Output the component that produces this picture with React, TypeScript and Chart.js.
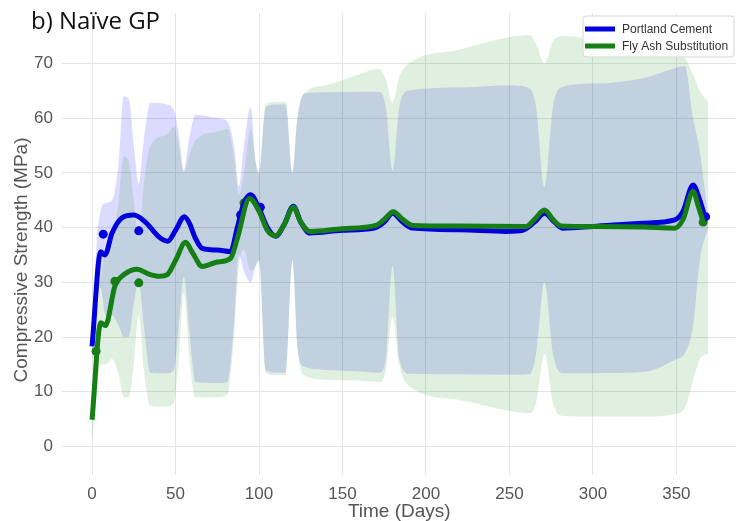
import React, { useEffect, useRef } from 'react';
import { Chart, registerables } from 'chart.js';

Chart.register(...registerables);

// ---- Data ----
const chartTitle = 'b) Naïve GP';
const seriesNames = ['Portland Cement', 'Fly Ash Substitution'];
const xAxisTitle = 'Time (Days)';
const yAxisTitle = 'Compressive Strength (MPa)';
const xTicks = [0, 50, 100, 150, 200, 250, 300, 350];
const yTicks = [0, 10, 20, 30, 40, 50, 60, 70];

// uncertainty band grid (days)
const bandDays = [0, 3, 5, 8, 12, 16, 19, 22, 25, 28, 31, 35, 45, 49, 52, 55, 58, 62, 75, 81, 85, 88, 91, 95, 98, 100, 104, 110, 116, 120, 123, 127, 140, 160, 172, 176, 180, 184, 190, 220, 250, 262, 266, 271, 276, 282, 300, 330, 350, 355, 360, 364, 369];
const pcUpper = [22, 38, 43, 44.5, 45, 52, 64, 63.5, 55, 48, 56, 62.8, 62.5, 61.5, 57, 50.5, 56, 60.6, 60, 59.4, 55, 47.5, 55, 62, 52, 50, 62, 62.5, 62.5, 50, 60, 64.5, 64.7, 64.8, 64.8, 62, 50.5, 62, 65.1, 65.6, 66, 65.4, 62, 47.5, 62, 65.7, 66.3, 67.3, 69.2, 69.5, 60, 54, 42];
const pcLower = [15, 27, 29, 24, 24, 22, 20, 20, 26, 30, 22, 13.5, 13.4, 14, 22, 31, 22, 11.8, 11.6, 11.8, 22, 35, 32, 30, 33, 34, 14, 13.5, 13.5, 34, 18, 14.6, 14, 13.7, 13.5, 16, 33, 16, 13.3, 13.2, 13.1, 13.2, 17, 30, 17, 13.4, 13.4, 13.6, 16, 17, 22, 34, 40];
const faUpper = [9, 24, 30, 36, 38, 45, 53, 52, 45, 38, 48, 55, 57, 58.4, 55, 50, 53, 56, 57.5, 58, 53, 46, 50, 58, 52, 50, 62.5, 63, 63, 50, 60, 64.5, 66, 68, 69, 67, 62.8, 67.5, 70, 72.5, 74.8, 75.2, 73.5, 70, 74, 75, 74.5, 73.5, 72, 71, 68, 65, 63];
const faLower = [1, 10, 15, 15, 16, 13, 9, 9, 15, 24, 14, 7.5, 7.3, 8, 16, 28, 17, 9, 9, 9.5, 20, 33, 36, 32, 33, 34, 13.5, 13, 13, 34, 18, 13, 12.2, 12, 11.8, 14, 23.8, 15, 11, 8.5, 6.5, 6.1, 8, 17, 8, 5.6, 5.5, 5.5, 6, 7, 12, 16, 17];

// mean predictions
const pcLineDays = [0, 5.2, 7.7, 12, 18, 25, 32, 40, 45.3, 50, 55.3, 58, 62, 66, 75, 83, 87, 91, 95, 100, 105, 110, 115, 120.6, 125, 130.5, 150, 169, 175, 180, 186, 192, 220, 248, 258, 265, 271, 277, 282, 300, 330, 349, 354, 360, 364, 367];
const pcLineVals = [18.3, 35.6, 35.0, 39, 41.8, 42.3, 41, 38.3, 37.5, 39.5, 42.0, 41, 38, 36.2, 35.9, 35.6, 40, 44.5, 46.0, 43.5, 40, 38.4, 40.5, 43.9, 41, 39.0, 39.5, 39.9, 41, 42.6, 41, 39.9, 39.6, 39.3, 39.5, 41, 42.6, 41, 39.9, 40.2, 40.8, 41.4, 43, 47.8, 45, 42.0];
const faLineDays = [0, 5.2, 8, 13.7, 20, 27, 34, 40.4, 45, 50, 56, 60, 66, 75, 83, 87, 94.3, 100, 105, 110, 115, 120.6, 125, 130.5, 150, 170, 175, 180.4, 186, 192, 220, 260, 265, 271, 276, 281, 300, 330, 349, 354, 360, 363, 366];
const faLineVals = [4.9, 22.6, 22.1, 29.3, 31.6, 32.4, 31.5, 31.1, 31.4, 34, 37.3, 35.5, 32.9, 33.7, 34.4, 38, 45.3, 43, 39.5, 38.5, 40.5, 43.7, 41, 39.3, 39.8, 40.4, 41.5, 42.9, 41.5, 40.4, 40.3, 40.2, 41.5, 43.2, 41.5, 40.3, 40.2, 40.1, 39.9, 41.5, 46.6, 44, 41.1];

// observations
const pcObsDays = [6.7, 28, 89, 100.8, 367.5];
const pcObsVals = [38.8, 39.4, 42.3, 43.7, 42.0];
const faObsDays = [2.4, 13.7, 28, 91, 366];
const faObsVals = [17.4, 30.2, 29.9, 44.5, 41.0];

const blue = '#0000dd';
const green = '#157f15';
const blueBand = 'rgba(0,0,255,0.14)';
const greenBand = 'rgba(0,128,0,0.12)';

const pts = (xs: number[], ys: number[]) => xs.map((x, i) => ({ x, y: ys[i] }));

const overlayPlugin = {
  id: 'overlayText',
  afterDraw(chart: any) {
    const ctx = chart.ctx as CanvasRenderingContext2D;
    ctx.save();
    ctx.font = '24px "Open Sans"';
    ctx.fillStyle = '#111';
    ctx.textBaseline = 'alphabetic';
    ctx.textAlign = 'left';
    ctx.fillText(chartTitle, 31, 29);

    // y axis title
    ctx.save();
    ctx.translate(22, 260);
    ctx.rotate(-Math.PI / 2);
    ctx.font = '19px "Liberation Sans"';
    ctx.fillStyle = '#555';
    ctx.textAlign = 'center';
    ctx.textBaseline = 'middle';
    ctx.fillText(yAxisTitle, 0, 0);
    ctx.restore();

    // legend box
    const bx = 583, by = 16, bw = 151, bh = 41, r = 3;
    ctx.beginPath();
    ctx.moveTo(bx + r, by);
    ctx.lineTo(bx + bw - r, by);
    ctx.quadraticCurveTo(bx + bw, by, bx + bw, by + r);
    ctx.lineTo(bx + bw, by + bh - r);
    ctx.quadraticCurveTo(bx + bw, by + bh, bx + bw - r, by + bh);
    ctx.lineTo(bx + r, by + bh);
    ctx.quadraticCurveTo(bx, by + bh, bx, by + bh - r);
    ctx.lineTo(bx, by + r);
    ctx.quadraticCurveTo(bx, by, bx + r, by);
    ctx.closePath();
    ctx.fillStyle = 'rgba(255,255,255,0.85)';
    ctx.fill();
    ctx.strokeStyle = '#d6d6d6';
    ctx.lineWidth = 1;
    ctx.stroke();

    const rows = [
      { label: seriesNames[0], color: blue, y: 29 },
      { label: seriesNames[1], color: green, y: 46 },
    ];
    ctx.font = '12px "Liberation Sans"';
    ctx.textBaseline = 'middle';
    ctx.textAlign = 'left';
    rows.forEach((row) => {
      ctx.strokeStyle = row.color;
      ctx.lineWidth = 5;
      ctx.beginPath();
      ctx.moveTo(585, row.y);
      ctx.lineTo(615, row.y);
      ctx.stroke();
      ctx.fillStyle = '#333';
      ctx.fillText(row.label, 622, row.y + 1);
    });
    ctx.restore();
  },
};

export default function App() {
  const canvasRef = useRef<HTMLCanvasElement | null>(null);

  useEffect(() => {
    if (!canvasRef.current) return;
    const bandCommon = {
      pointRadius: 0,
      borderWidth: 0,
      cubicInterpolationMode: 'monotone' as const,
      pointHoverRadius: 0,
    };
    const chart = new Chart(canvasRef.current, {
      type: 'line',
      data: {
        datasets: [
          { label: 'pcUpper', data: pts(bandDays, pcUpper), fill: false, order: 11, borderColor: 'transparent', ...bandCommon },
          { label: 'pcLower', data: pts(bandDays, pcLower), fill: '-1', backgroundColor: blueBand, order: 11, borderColor: 'transparent', ...bandCommon },
          { label: 'faUpper', data: pts(bandDays, faUpper), fill: false, order: 10, borderColor: 'transparent', ...bandCommon },
          { label: 'faLower', data: pts(bandDays, faLower), fill: '-1', backgroundColor: greenBand, order: 10, borderColor: 'transparent', ...bandCommon },
          { label: 'pcObs', data: pts(pcObsDays, pcObsVals), showLine: false, pointRadius: 4.5, pointBackgroundColor: blue, pointBorderWidth: 0, order: 3 },
          { label: 'faObs', data: pts(faObsDays, faObsVals), showLine: false, pointRadius: 4.5, pointBackgroundColor: green, pointBorderWidth: 0, order: 3 },
          { label: seriesNames[0], data: pts(pcLineDays, pcLineVals), borderColor: blue, borderWidth: 5, pointRadius: 0, fill: false, cubicInterpolationMode: 'monotone', order: 2, borderJoinStyle: 'round', borderCapStyle: 'butt' },
          { label: seriesNames[1], data: pts(faLineDays, faLineVals), borderColor: green, borderWidth: 5, pointRadius: 0, fill: false, cubicInterpolationMode: 'monotone', order: 1, borderJoinStyle: 'round', borderCapStyle: 'butt' },
        ],
      },
      options: {
        animation: false,
        responsive: true,
        maintainAspectRatio: false,
        layout: { padding: { top: 13, right: 0, left: 0, bottom: 0 } },
        plugins: {
          legend: { display: false },
          tooltip: { enabled: false },
          title: { display: false },
        },
        scales: {
          x: {
            type: 'linear',
            min: -18,
            max: 386,
            afterBuildTicks: (scale: any) => {
              scale.ticks = xTicks.map((v) => ({ value: v }));
            },
            afterFit: (scale: any) => {
              scale.height = 46;
              scale.paddingLeft = 0;
              scale.paddingRight = 0;
            },
            grid: { color: '#e4e4e4', lineWidth: 1, drawTicks: false },
            border: { display: false },
            ticks: {
              padding: 9,
              color: '#555',
              font: { family: '"Liberation Sans"', size: 17 },
              maxRotation: 0,
              autoSkip: false,
            },
            title: {
              display: true,
              text: xAxisTitle,
              color: '#555',
              font: { family: '"Liberation Sans"', size: 19 },
              padding: { top: 0, bottom: -2 },
            },
          },
          y: {
            type: 'linear',
            min: -5.2,
            max: 79.2,
            afterBuildTicks: (scale: any) => {
              scale.ticks = yTicks.map((v) => ({ value: v }));
            },
            afterFit: (scale: any) => {
              scale.width = 62;
              scale.paddingTop = 0;
              scale.paddingBottom = 0;
            },
            grid: { color: '#e4e4e4', lineWidth: 1, drawTicks: false },
            border: { display: false },
            ticks: {
              padding: 9,
              color: '#555',
              font: { family: '"Liberation Sans"', size: 17 },
              autoSkip: false,
            },
          },
        },
      },
      plugins: [overlayPlugin],
    } as any);
    return () => chart.destroy();
  }, []);

  return (
    <div style={{ position: 'fixed', left: 0, top: 0, width: 741, height: 521, background: '#fff' }}>
      <canvas ref={canvasRef} />
    </div>
  );
}
